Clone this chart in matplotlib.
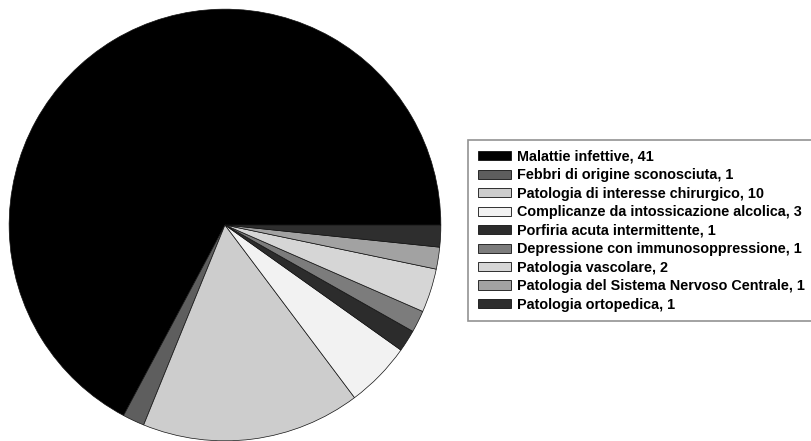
import matplotlib
matplotlib.use("Agg")
import matplotlib.pyplot as plt

# Casistica per categoria diagnostica
categorie = [
    "Malattie infettive",
    "Febbri di origine sconosciuta",
    "Patologia di interesse chirurgico",
    "Complicanze da intossicazione alcolica",
    "Porfiria acuta intermittente",
    "Depressione con immunosoppressione",
    "Patologia vascolare",
    "Patologia del Sistema Nervoso Centrale",
    "Patologia ortopedica",
]
casi = [41, 1, 10, 3, 1, 1, 2, 1, 1]
colori = ["#000000", "#5e5e5e", "#cdcdcd", "#f2f2f2", "#2c2c2c",
          "#7c7c7c", "#d6d6d6", "#a2a2a2", "#2e2e2e"]

plt.rcParams["font.family"] = ["Liberation Sans", "DejaVu Sans"]

W, H = 812, 441
fig = plt.figure(figsize=(W / 100, H / 100), dpi=100)

# torta: centro (225, 225) px, raggio 218 px
cx, cy, r = 225, 225, 218
ax = fig.add_axes([(cx - r) / W, (H - cy - r) / H, 2 * r / W, 2 * r / H])
wedges, _ = ax.pie(casi, colors=colori, startangle=0, counterclock=True,
                   wedgeprops=dict(edgecolor="#111111", linewidth=0.5))
ax.set_xlim(-1.01, 1.01)
ax.set_ylim(-1.01, 1.01)
ax.set_aspect("equal")
ax.axis("off")

etichette = [f"{c}, {n}" for c, n in zip(categorie, casi)]
leg = fig.legend(wedges, etichette, loc="upper left",
                 bbox_to_anchor=(468 / W, 1 - 140 / H),
                 prop=dict(weight="bold", size=10.4),
                 frameon=True, fancybox=False, shadow=False,
                 handlelength=2.3, handleheight=0.6, handletextpad=0.4,
                 labelspacing=0.31, borderpad=0.68, borderaxespad=0)
leg.get_frame().set_edgecolor("#777777")
leg.get_frame().set_linewidth(1.2)
for h in leg.legend_handles:
    h.set_edgecolor("#111111")
    h.set_linewidth(0.6)

fig.savefig("out.png", dpi=100)
